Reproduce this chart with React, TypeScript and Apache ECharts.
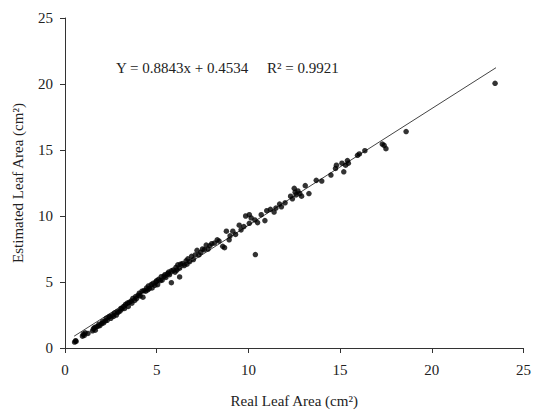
import React, { useEffect, useRef } from "react";
import * as echarts from "echarts";

// Real leaf area (cm²)
const realArea: number[] = [
  0.52, 0.58, 0.6, 0.95, 1.0, 1.05, 1.1, 1.25, 1.5, 1.55, 1.6, 1.65, 1.7, 1.8, 1.85, 1.9, 2.0, 2.05, 2.1,
  2.2, 2.25, 2.3, 2.4, 2.45, 2.5, 2.6, 2.65, 2.7, 2.8, 2.85, 2.9, 3.0, 3.05, 3.1, 3.2, 3.25, 3.3, 3.4, 3.45, 3.5, 3.6, 3.65, 3.7, 3.8, 3.85, 3.9, 4.0, 4.05,
  4.1, 4.2, 4.25, 4.3, 4.4, 4.45, 4.5, 4.55, 4.6, 4.7, 4.75, 4.8, 4.9, 4.95, 5.0, 5.05, 5.1, 5.2, 5.25, 5.3, 5.4, 5.45, 5.5, 5.6, 5.65, 5.7, 5.8, 5.8, 5.9, 6.0, 6.05,
  6.1, 6.15, 6.25, 6.25, 6.3, 6.4, 6.5, 6.6, 6.65, 6.7, 6.8, 6.9, 7.0, 7.1, 7.2, 7.3, 7.4, 7.5, 7.6, 7.7, 7.8, 7.9,
  8.0, 8.15, 8.3, 8.4, 8.6, 8.7, 8.8, 8.95, 9.0, 9.15, 9.3, 9.5, 9.6, 9.75, 9.85, 10.05, 10.05, 10.15, 10.35,
  10.38, 10.5, 10.7, 10.9, 11.0, 11.2, 11.4, 11.5, 11.7, 11.8, 12.0, 12.3, 12.4, 12.5, 12.55, 12.6, 12.7, 12.8, 12.9, 13.1, 13.3,
  13.7, 14.0, 14.5, 14.75, 14.8, 15.1, 15.2, 15.3, 15.4, 15.45, 15.95, 16.05, 16.35, 17.3, 17.4, 17.5, 18.6, 23.45,
];

// Estimated leaf area (cm²)
const estimatedArea: number[] = [
  0.45, 0.55, 0.5, 0.9, 1.05, 0.95, 1.15, 1.1, 1.3, 1.45, 1.55, 1.35, 1.6, 1.65, 1.8, 1.7, 1.85, 2.0, 1.9,
  2.05, 2.25, 2.1, 2.35, 2.4, 2.25, 2.5, 2.4, 2.65, 2.5, 2.75, 2.7, 2.8, 3.0, 2.95, 3.15, 3.0, 3.3, 3.4, 3.15, 3.45, 3.55, 3.4, 3.75, 3.6, 3.9, 3.75, 4.0, 4.15,
  3.95, 4.3, 3.85, 4.35, 4.3, 4.55, 4.4, 4.7, 4.5, 4.8, 4.55, 4.9, 4.75, 5.0, 5.1, 4.8, 5.2, 5.1, 5.4, 5.15, 5.45, 5.55, 5.35, 5.65, 5.75, 5.55, 4.95, 5.85, 5.9, 5.75, 6.1,
  5.9, 6.3, 5.38, 6.05, 6.35, 6.4, 6.25, 6.6, 6.35, 6.75, 6.55, 6.95, 6.7, 7.05, 7.4, 7.05, 7.25, 7.5, 7.45, 7.8, 7.5, 7.75,
  7.9, 7.95, 8.2, 8.1, 7.7, 7.6, 8.85, 8.2, 8.5, 8.85, 8.6, 9.3, 8.95, 9.2, 10.0, 10.1, 9.45, 9.85, 9.7,
  7.08, 9.5, 10.1, 9.65, 10.4, 10.5, 10.3, 10.6, 10.9, 10.7, 11.0, 11.5, 11.3, 12.1, 11.8, 11.6, 11.9, 11.7, 11.5, 12.3, 11.7,
  12.7, 12.65, 13.1, 13.6, 13.85, 14.0, 13.35, 13.85, 14.2, 14.0, 14.6, 14.7, 14.95, 15.45, 15.35, 15.1, 16.4, 20.05,
];

// Linear trend line
const slope = 0.8843;
const intercept = 0.4534;
const trendRange: number[] = [0.5, 23.5];
const equationText = "Y = 0.8843x + 0.4534     R\u00b2 = 0.9921";

const axisTicks: number[] = [0, 25, 5]; // min, max, interval

const FONT = "'Liberation Serif', 'Times New Roman', serif";

export default function App() {
  const ref = useRef<HTMLDivElement>(null);
  useEffect(() => {
    if (!ref.current) return;
    const chart = echarts.init(ref.current, undefined, { renderer: "svg" });
    const points = realArea.map((x, i) => [x, estimatedArea[i]]);
    const trend = trendRange.map((x) => [x, slope * x + intercept]);
    const axisCommon = {
      type: "value" as const,
      min: axisTicks[0],
      max: axisTicks[1],
      interval: axisTicks[2],
      nameLocation: "middle" as const,
      nameTextStyle: { fontFamily: FONT, fontSize: 15, color: "#222" },
      axisLine: { show: true, lineStyle: { color: "#333", width: 1 } },
      axisTick: { show: true, inside: false, length: 5, lineStyle: { color: "#333" } },
      axisLabel: { fontFamily: FONT, fontSize: 15, color: "#222" },
      splitLine: { show: false },
    };
    chart.setOption({
      animation: false,
      grid: { left: 65, right: 9, top: 18, bottom: 62, containLabel: false },
      xAxis: {
        ...axisCommon,
        name: "Real Leaf Area (cm\u00b2)",
        nameGap: 45,
        axisLabel: { ...axisCommon.axisLabel, margin: 14 },
      },
      yAxis: {
        ...axisCommon,
        name: "Estimated Leaf Area (cm\u00b2)",
        nameGap: 40,
        axisLabel: { ...axisCommon.axisLabel, margin: 12 },
      },
      graphic: [
        {
          type: "text",
          left: 116,
          top: 60,
          style: { text: equationText, font: `15px ${FONT}`, fill: "#222" },
        },
      ],
      series: [
        {
          type: "line",
          data: trend,
          symbol: "none",
          lineStyle: { color: "#444", width: 1 },
          z: 1,
        },
        {
          type: "scatter",
          data: points,
          symbol: "circle",
          symbolSize: 5.5,
          itemStyle: { color: "#000" },
          z: 2,
        },
      ],
    });
    return () => chart.dispose();
  }, []);
  return (
    <div
      ref={ref}
      style={{ position: "absolute", left: 0, top: 0, width: 534, height: 413, background: "#fff" }}
    />
  );
}
